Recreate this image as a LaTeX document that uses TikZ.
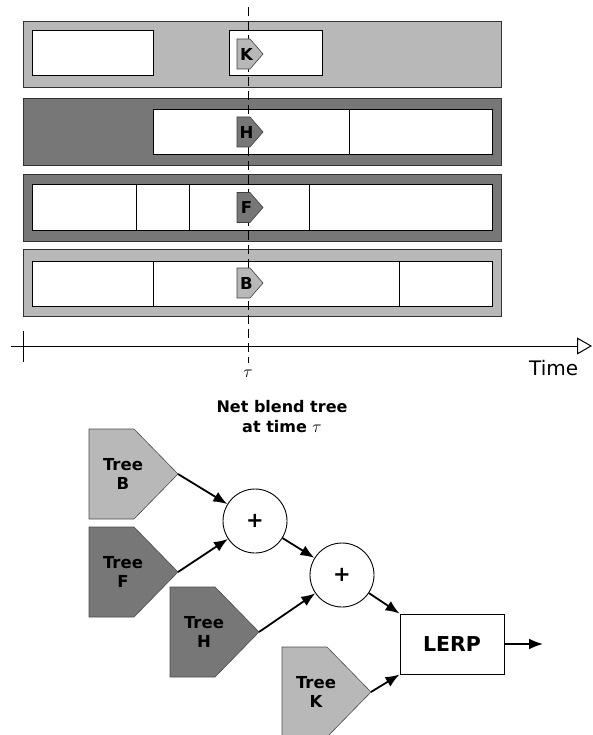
\documentclass[tikz,border=0pt]{standalone}
\usepackage{fontspec}
\setmainfont{DejaVu Sans}
\usetikzlibrary{arrows.meta}
\definecolor{lg}{HTML}{B8B8B8}
\definecolor{dg}{HTML}{777777}
\newcommand\tmarker[3]{%
  \filldraw[markshape,fill=#1] (237,{#2-15}) -- (250,{#2-15}) -- (263,#2) -- (250,{#2+15}) -- (237,{#2+15}) -- cycle;
  \node[marklbl] (m#3) at (246.5,#2) {#3};}
\newcommand\treepent[5]{%
  \filldraw[treeshape,fill=#3] (#1,#2) -- ++(45,0) -- ++(44,45) -- ++(-44,45) -- ++(-45,0) -- cycle;
  \coordinate (#4) at ({#1+89},{#2+45});
  \node[treelbl] (#4t) at ({#1+34},{#2+45}) {Tree\\#5};}
\begin{document}
\begin{tikzpicture}[x=1pt,y=-1pt,
  bar/.style={draw=black!80,line width=0.8pt},
  seg/.style={draw=black,fill=white,line width=1pt},
  markshape/.style={draw=black!75,line width=0.6pt},
  marklbl/.style={font=\bfseries\fontsize{16.5}{16.5}\selectfont,inner sep=0pt},
  treeshape/.style={draw=black!70,line width=0.6pt},
  treelbl/.style={font=\bfseries\fontsize{16.5}{19.5}\selectfont,align=center,inner sep=0pt},
  sumnode/.style={circle,draw=black,fill=white,line width=0.9pt,minimum size=64pt,inner sep=0pt,font=\bfseries\fontsize{21}{21}\selectfont},
  conn/.style={line width=1.8pt,-{Latex[length=14pt,width=11pt]}}]
\useasboundingbox (0,0) rectangle (592,735);
% bars
\filldraw[bar,fill=lg] (23,21) rectangle (501,87);
\filldraw[seg] (32,31) rectangle (153,76);
\filldraw[seg] (229,31) rectangle (322,76);
\filldraw[bar,fill=dg] (23,98) rectangle (501,165);
\filldraw[seg] (153,110) rectangle (492,155);
\draw[seg] (349,110) -- (349,155);
\filldraw[bar,fill=dg] (23,174) rectangle (501,241);
\filldraw[seg] (32,185) rectangle (492,230);
\draw[seg] (136,185) -- (136,230);
\draw[seg] (189,185) -- (189,230);
\draw[seg] (309,185) -- (309,230);
\filldraw[bar,fill=lg] (23,249) rectangle (501,316);
\filldraw[seg] (32,261) rectangle (492,306);
\draw[seg] (153,261) -- (153,306);
\draw[seg] (399,261) -- (399,306);
% time cursor
\draw[line width=0.9pt,dash pattern=on 9pt off 5pt] (248,7) -- (248,363);
% markers
\tmarker{lg}{54}{K}
\tmarker{dg}{132}{H}
\tmarker{dg}{207.5}{F}
\tmarker{lg}{283}{B}
% axis
\coordinate (ax0) at (11,346);
\coordinate (ax1) at (592,346);
\draw[line width=1pt,-{Triangle[open,length=15pt,width=17pt,line width=1pt]}] (ax0) -- (ax1);
\draw[line width=1pt] (23,331) -- (23,362);
\node[font=\fontsize{20}{20}\selectfont,anchor=base west,inner sep=0pt] (time) at (529,375) {Time};
\node[font=\fontsize{17}{17}\selectfont,inner sep=0pt] (tau) at (248,374) {$\tau$};
% blend tree
\node[font=\bfseries\fontsize{16}{20}\selectfont,align=center,inner sep=0pt] (title) at (282,417) {Net blend tree\\at time $\tau$};
\treepent{89}{429}{lg}{tB}{B}
\treepent{89}{527}{dg}{tF}{F}
\treepent{170}{587}{dg}{tH}{H}
\treepent{282}{647}{lg}{tK}{K}
\node[sumnode] (s1) at (255,521) {+};
\node[sumnode] (s2) at (342,575) {+};
\node[draw=black,fill=white,line width=0.9pt,minimum width=104pt,minimum height=60pt,inner sep=0pt,font=\bfseries\fontsize{20.5}{20.5}\selectfont] (lerp) at (452,644) {LERP};
\coordinate (out) at (543,644);
\draw[conn] (tB) -- (s1);
\draw[conn] (tF) -- (s1);
\draw[conn] (s1) -- (s2);
\draw[conn] (tH) -- (s2);
\draw[conn] (s2) -- (lerp.north west);
\draw[conn] (tK) -- (lerp.south west);
\draw[conn] (lerp.east) -- (out);
\end{tikzpicture}
\end{document}
